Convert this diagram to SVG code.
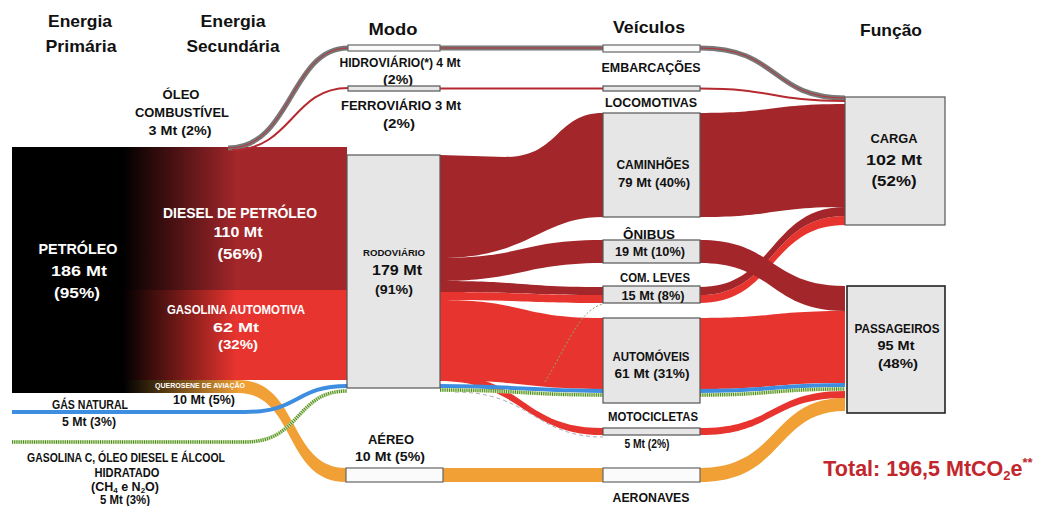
<svg xmlns="http://www.w3.org/2000/svg" width="1047" height="506" viewBox="0 0 1047 506">
<defs>
<linearGradient id="gDiesel" x1="0" y1="0" x2="1" y2="0">
<stop offset="0.33" stop-color="#000"/><stop offset="0.67" stop-color="#a3262a"/></linearGradient>
<linearGradient id="gGas" x1="0" y1="0" x2="1" y2="0">
<stop offset="0.33" stop-color="#000"/><stop offset="0.67" stop-color="#e8342f"/></linearGradient>
<linearGradient id="gKer" x1="0" y1="0" x2="1" y2="0">
<stop offset="0.49" stop-color="#000"/><stop offset="1" stop-color="#f0a035"/></linearGradient>
<style>
text{font-family:"Liberation Sans",Arial,sans-serif;font-weight:bold;fill:#111;text-anchor:middle}
.h{font-size:17px}
.l{font-size:12.5px}
.m{font-size:15px}
.w{fill:#fff}
.box{fill:#e6e6e6;stroke:#555;stroke-width:1.2}
.wbox{fill:#fbfbfb;stroke:#666;stroke-width:1.2}
.dk{fill:#a3262a}
.rd{fill:#e8342f}
.or{fill:#f0a035}
.blue{fill:none;stroke:#3d8ee0;stroke-width:4}
.grn{fill:none;stroke:#d8e49a;stroke-width:3.5}
.grnd{fill:none;stroke:#3f8a3a;stroke-width:3.5;stroke-dasharray:1 1.2}
</style>
</defs>
<rect width="1047" height="506" fill="#fff"/>

<g id="headers">
<text class="h" x="80" y="27" textLength="64" lengthAdjust="spacingAndGlyphs">Energia</text>
<text class="h" x="81" y="52" textLength="71" lengthAdjust="spacingAndGlyphs">Primária</text>
<text class="h" x="233" y="27" textLength="65" lengthAdjust="spacingAndGlyphs">Energia</text>
<text class="h" x="233" y="52" textLength="93" lengthAdjust="spacingAndGlyphs">Secundária</text>
<text class="h" x="393" y="35" textLength="49" lengthAdjust="spacingAndGlyphs">Modo</text>
<text class="h" x="649" y="33" textLength="72" lengthAdjust="spacingAndGlyphs">Veículos</text>
<text class="h" x="891" y="36" textLength="62" lengthAdjust="spacingAndGlyphs">Função</text>
</g>

<g id="connectors">
<rect x="12" y="147" width="335" height="143" fill="url(#gDiesel)"/>
<rect x="12" y="290" width="335" height="90" fill="url(#gGas)"/>
<rect x="12" y="380" width="228" height="13" fill="url(#gKer)"/>
<path d="M228 148 C292 148 290 48 348 48" fill="none" stroke="#777" stroke-width="5"/>
<path d="M228 148 C292 148 290 48 348 48" fill="none" stroke="#b8333a" stroke-width="1"/>
<path d="M232 150 C292 150 292 88 348 88" fill="none" stroke="#b52a30" stroke-width="2"/>
<path d="M440 48 L603 48" stroke="#777" stroke-width="5"/>
<path d="M440 48 L603 48" stroke="#b8333a" stroke-width="1"/>
<path d="M440 88.5 L603 88.5" stroke="#b52a30" stroke-width="2"/>
<path d="M700 48 C780 48 770 98 845 98" fill="none" stroke="#777" stroke-width="5"/>
<path d="M700 48 C780 48 770 98 845 98" fill="none" stroke="#b8333a" stroke-width="1"/>
<path d="M700 88.5 C775 88.5 770 101 845 101" fill="none" stroke="#b52a30" stroke-width="2"/>
<path class="or" d="M238 380 C300 380 288 468 346 468 L346 482 C284 482 296 393 238 393 Z"/>
<rect class="or" x="443" y="468" width="160" height="14"/>
<path class="or" d="M700 468 C780 468 770 398 845 398 L845 411 C775 411 785 482 700 482 Z"/>
<path class="dk" d="M440 155 L505 157 C560 157 555 113 603 113 L603 217 C540 217 530 258 440 258 Z"/>
<path class="dk" d="M440 258 C525 258 520 240 603 240 L603 263 C525 263 520 281 440 281 Z"/>
<path class="dk" d="M440 281 C525 281 520 287 603 287 L603 295 C525 295 520 292 440 292 Z"/>
<path class="rd" d="M440 292 C525 292 520 295 603 295 L603 303 C525 303 520 300 440 300 Z"/>
<path class="rd" d="M440 300 C525 300 520 318 603 318 L603 389 C525 389 520 380 440 380 Z"/>
<path class="rd" d="M440 374 C525 374 520 428 603 428 L603 435 C525 435 520 381 440 381 Z"/>
<path d="M455 392 C530 392 535 437 603 437" fill="none" stroke="#aab" stroke-width="1" stroke-dasharray="4 3"/>
<path d="M545 382 C570 340 580 310 603 304" fill="none" stroke="#8a6" stroke-width="1" stroke-dasharray="2 2"/>
<path class="dk" d="M700 113 C775 113 770 104 845 104 L845 207 C770 207 775 217 700 217 Z"/>
<path class="rd" d="M700 295 C775 295 770 216 845 216 L845 225 C770 225 775 303 700 303 Z"/>
<path class="dk" d="M700 287 C775 287 770 207 845 207 L845 216 C770 216 775 295 700 295 Z"/>
<path class="dk" d="M700 240 C775 240 770 286 845 286 L845 311 C770 311 775 263 700 263 Z"/>
<path class="rd" d="M700 318 C775 318 770 311 845 311 L845 383 C770 383 775 389 700 389 Z"/>
<path class="rd" d="M700 428 C775 428 770 391 845 391 L845 398 C770 398 775 435 700 435 Z"/>
<path class="blue" d="M12 412 L245 412 C300 412 295 386 347 386"/>
<path class="blue" d="M440 386 C525 386 520 391 603 391"/>
<path class="blue" d="M700 391 C775 391 770 385 845 385"/>
<path class="grn" d="M12 442 L245 442 C302 442 295 391 347 391 M440 390 C525 390 520 395 603 395 M700 395 C775 395 770 389 845 389"/>
<path class="grnd" d="M12 442 L245 442 C302 442 295 391 347 391 M440 390 C525 390 520 395 603 395 M700 395 C775 395 770 389 845 389"/>
</g>

<g id="n-petroleo">
<text class="m w" x="78" y="254" textLength="79" lengthAdjust="spacingAndGlyphs">PETRÓLEO</text>
<text class="m w" x="79" y="276" textLength="56" lengthAdjust="spacingAndGlyphs">186 Mt</text>
<text class="m w" x="77" y="298" textLength="46" lengthAdjust="spacingAndGlyphs">(95%)</text>
</g>
<g id="n-diesel">
<text class="m w" x="240" y="218" textLength="154" lengthAdjust="spacingAndGlyphs">DIESEL DE PETRÓLEO</text>
<text class="m w" x="238" y="237" textLength="49" lengthAdjust="spacingAndGlyphs">110 Mt</text>
<text class="m w" x="240" y="259" textLength="45" lengthAdjust="spacingAndGlyphs">(56%)</text>
</g>
<g id="n-gasolina">
<text class="l w" x="236" y="314" textLength="138" lengthAdjust="spacingAndGlyphs">GASOLINA AUTOMOTIVA</text>
<text class="l w" x="236" y="332" textLength="46" lengthAdjust="spacingAndGlyphs">62 Mt</text>
<text class="l w" x="238" y="349" textLength="40" lengthAdjust="spacingAndGlyphs">(32%)</text>
</g>
<g id="n-querosene">
<text class="w" x="200" y="388" font-size="7" textLength="90" lengthAdjust="spacingAndGlyphs">QUEROSENE DE AVIAÇÃO</text>
<text class="l" x="204" y="404" textLength="62" lengthAdjust="spacingAndGlyphs">10 Mt (5%)</text>
</g>
<g id="n-oleo">
<text class="l" x="181" y="99" textLength="37" lengthAdjust="spacingAndGlyphs">ÓLEO</text>
<text class="l" x="182" y="117" textLength="94" lengthAdjust="spacingAndGlyphs">COMBUSTÍVEL</text>
<text class="l" x="180" y="135" textLength="63" lengthAdjust="spacingAndGlyphs">3 Mt (2%)</text>
</g>
<g id="n-gas-natural">
<text class="l" x="90" y="409" textLength="76" lengthAdjust="spacingAndGlyphs">GÁS NATURAL</text>
<text class="l" x="89" y="426" textLength="54" lengthAdjust="spacingAndGlyphs">5 Mt (3%)</text>
</g>
<g id="n-biocomb">
<text class="l" x="126" y="462" textLength="198" lengthAdjust="spacingAndGlyphs">GASOLINA C, ÓLEO DIESEL E ÁLCOOL</text>
<text class="l" x="127" y="477" textLength="65" lengthAdjust="spacingAndGlyphs">HIDRATADO</text>
<text class="l" x="125" y="491">(CH<tspan font-size="8" dy="2">4</tspan><tspan dy="-2"> e N</tspan><tspan font-size="8" dy="2">2</tspan><tspan dy="-2">O)</tspan></text>
<text class="l" x="125" y="504" textLength="50" lengthAdjust="spacingAndGlyphs">5 Mt (3%)</text>
</g>

<g id="n-hidroviario">
<rect class="wbox" x="348" y="45" width="92" height="6"/>
<text class="l" x="400" y="67" textLength="121" lengthAdjust="spacingAndGlyphs">HIDROVIÁRIO(*) 4 Mt</text>
<text class="l" x="398" y="84" textLength="30" lengthAdjust="spacingAndGlyphs">(2%)</text>
</g>
<g id="n-ferroviario">
<rect class="box" x="348" y="86" width="92" height="5"/>
<text class="l" x="401" y="110" textLength="120" lengthAdjust="spacingAndGlyphs">FERROVIÁRIO 3 Mt</text>
<text class="l" x="399" y="128" textLength="32" lengthAdjust="spacingAndGlyphs">(2%)</text>
</g>
<g id="n-rodoviario">
<rect class="box" x="347" y="155" width="93" height="233"/>
<text x="394" y="256" font-size="9" textLength="62" lengthAdjust="spacingAndGlyphs">RODOVIÁRIO</text>
<text x="397" y="275" font-size="15" textLength="50" lengthAdjust="spacingAndGlyphs">179 Mt</text>
<text x="394" y="294" font-size="13" textLength="38" lengthAdjust="spacingAndGlyphs">(91%)</text>
</g>
<g id="n-aereo">
<rect class="wbox" x="346" y="468" width="97" height="14"/>
<text class="l" x="391" y="444" textLength="46" lengthAdjust="spacingAndGlyphs">AÉREO</text>
<text class="l" x="390" y="461" textLength="70" lengthAdjust="spacingAndGlyphs">10 Mt (5%)</text>
</g>

<g id="n-embarcacoes">
<rect class="wbox" x="603" y="45" width="97" height="7"/>
<text class="l" x="651" y="72" textLength="99" lengthAdjust="spacingAndGlyphs">EMBARCAÇÕES</text>
</g>
<g id="n-locomotivas">
<rect class="box" x="603" y="86" width="97" height="5"/>
<text class="l" x="651" y="107" textLength="92" lengthAdjust="spacingAndGlyphs">LOCOMOTIVAS</text>
</g>
<g id="n-caminhoes">
<rect class="box" x="603" y="113" width="97" height="104"/>
<text class="l" x="653" y="169" textLength="73" lengthAdjust="spacingAndGlyphs">CAMINHÕES</text>
<text class="l" x="654" y="187" textLength="72" lengthAdjust="spacingAndGlyphs">79 Mt (40%)</text>
</g>
<g id="n-onibus">
<rect class="box" x="603" y="240" width="97" height="23"/>
<text class="l" x="649" y="239" textLength="52" lengthAdjust="spacingAndGlyphs">ÔNIBUS</text>
<text class="l" x="650" y="256" textLength="70" lengthAdjust="spacingAndGlyphs">19 Mt (10%)</text>
</g>
<g id="n-com-leves">
<rect class="box" x="603" y="286" width="97" height="17"/>
<text class="l" x="655" y="282" textLength="70" lengthAdjust="spacingAndGlyphs">COM. LEVES</text>
<text class="l" x="653" y="300" textLength="63" lengthAdjust="spacingAndGlyphs">15 Mt (8%)</text>
</g>
<g id="n-automoveis">
<rect class="box" x="603" y="318" width="97" height="85"/>
<text class="l" x="651" y="361" textLength="77" lengthAdjust="spacingAndGlyphs">AUTOMÓVEIS</text>
<text class="l" x="652" y="378" textLength="75" lengthAdjust="spacingAndGlyphs">61 Mt (31%)</text>
</g>
<g id="n-motocicletas">
<rect class="box" x="603" y="428" width="97" height="7"/>
<text class="l" x="653" y="421" textLength="90" lengthAdjust="spacingAndGlyphs">MOTOCICLETAS</text>
<text class="l" x="647" y="448" textLength="45" lengthAdjust="spacingAndGlyphs">5 Mt (2%)</text>
</g>
<g id="n-aeronaves">
<rect class="wbox" x="603" y="468" width="97" height="14"/>
<text class="l" x="651" y="502" textLength="77" lengthAdjust="spacingAndGlyphs">AERONAVES</text>
</g>

<g id="n-carga">
<rect class="box" x="845" y="97" width="100" height="128"/>
<text class="l" x="894" y="143" textLength="47" lengthAdjust="spacingAndGlyphs">CARGA</text>
<text class="m" x="894" y="165" textLength="56" lengthAdjust="spacingAndGlyphs">102 Mt</text>
<text class="m" x="894" y="186" textLength="45" lengthAdjust="spacingAndGlyphs">(52%)</text>
</g>
<g id="n-passageiros">
<rect x="847" y="286" width="98" height="127" fill="#e6e6e6" stroke="#222" stroke-width="1.6"/>
<text class="l" x="897" y="333" textLength="85" lengthAdjust="spacingAndGlyphs">PASSAGEIROS</text>
<text class="l" x="896" y="350" textLength="37" lengthAdjust="spacingAndGlyphs">95 Mt</text>
<text class="l" x="898" y="368" textLength="40" lengthAdjust="spacingAndGlyphs">(48%)</text>
</g>

<g id="total">
<text x="928" y="476" font-size="21.5" style="fill:#c1272d">Total: 196,5 MtCO<tspan font-size="13" dy="4">2</tspan><tspan dy="-4">e</tspan><tspan font-size="13" dy="-9">**</tspan></text>
</g>
</svg>
